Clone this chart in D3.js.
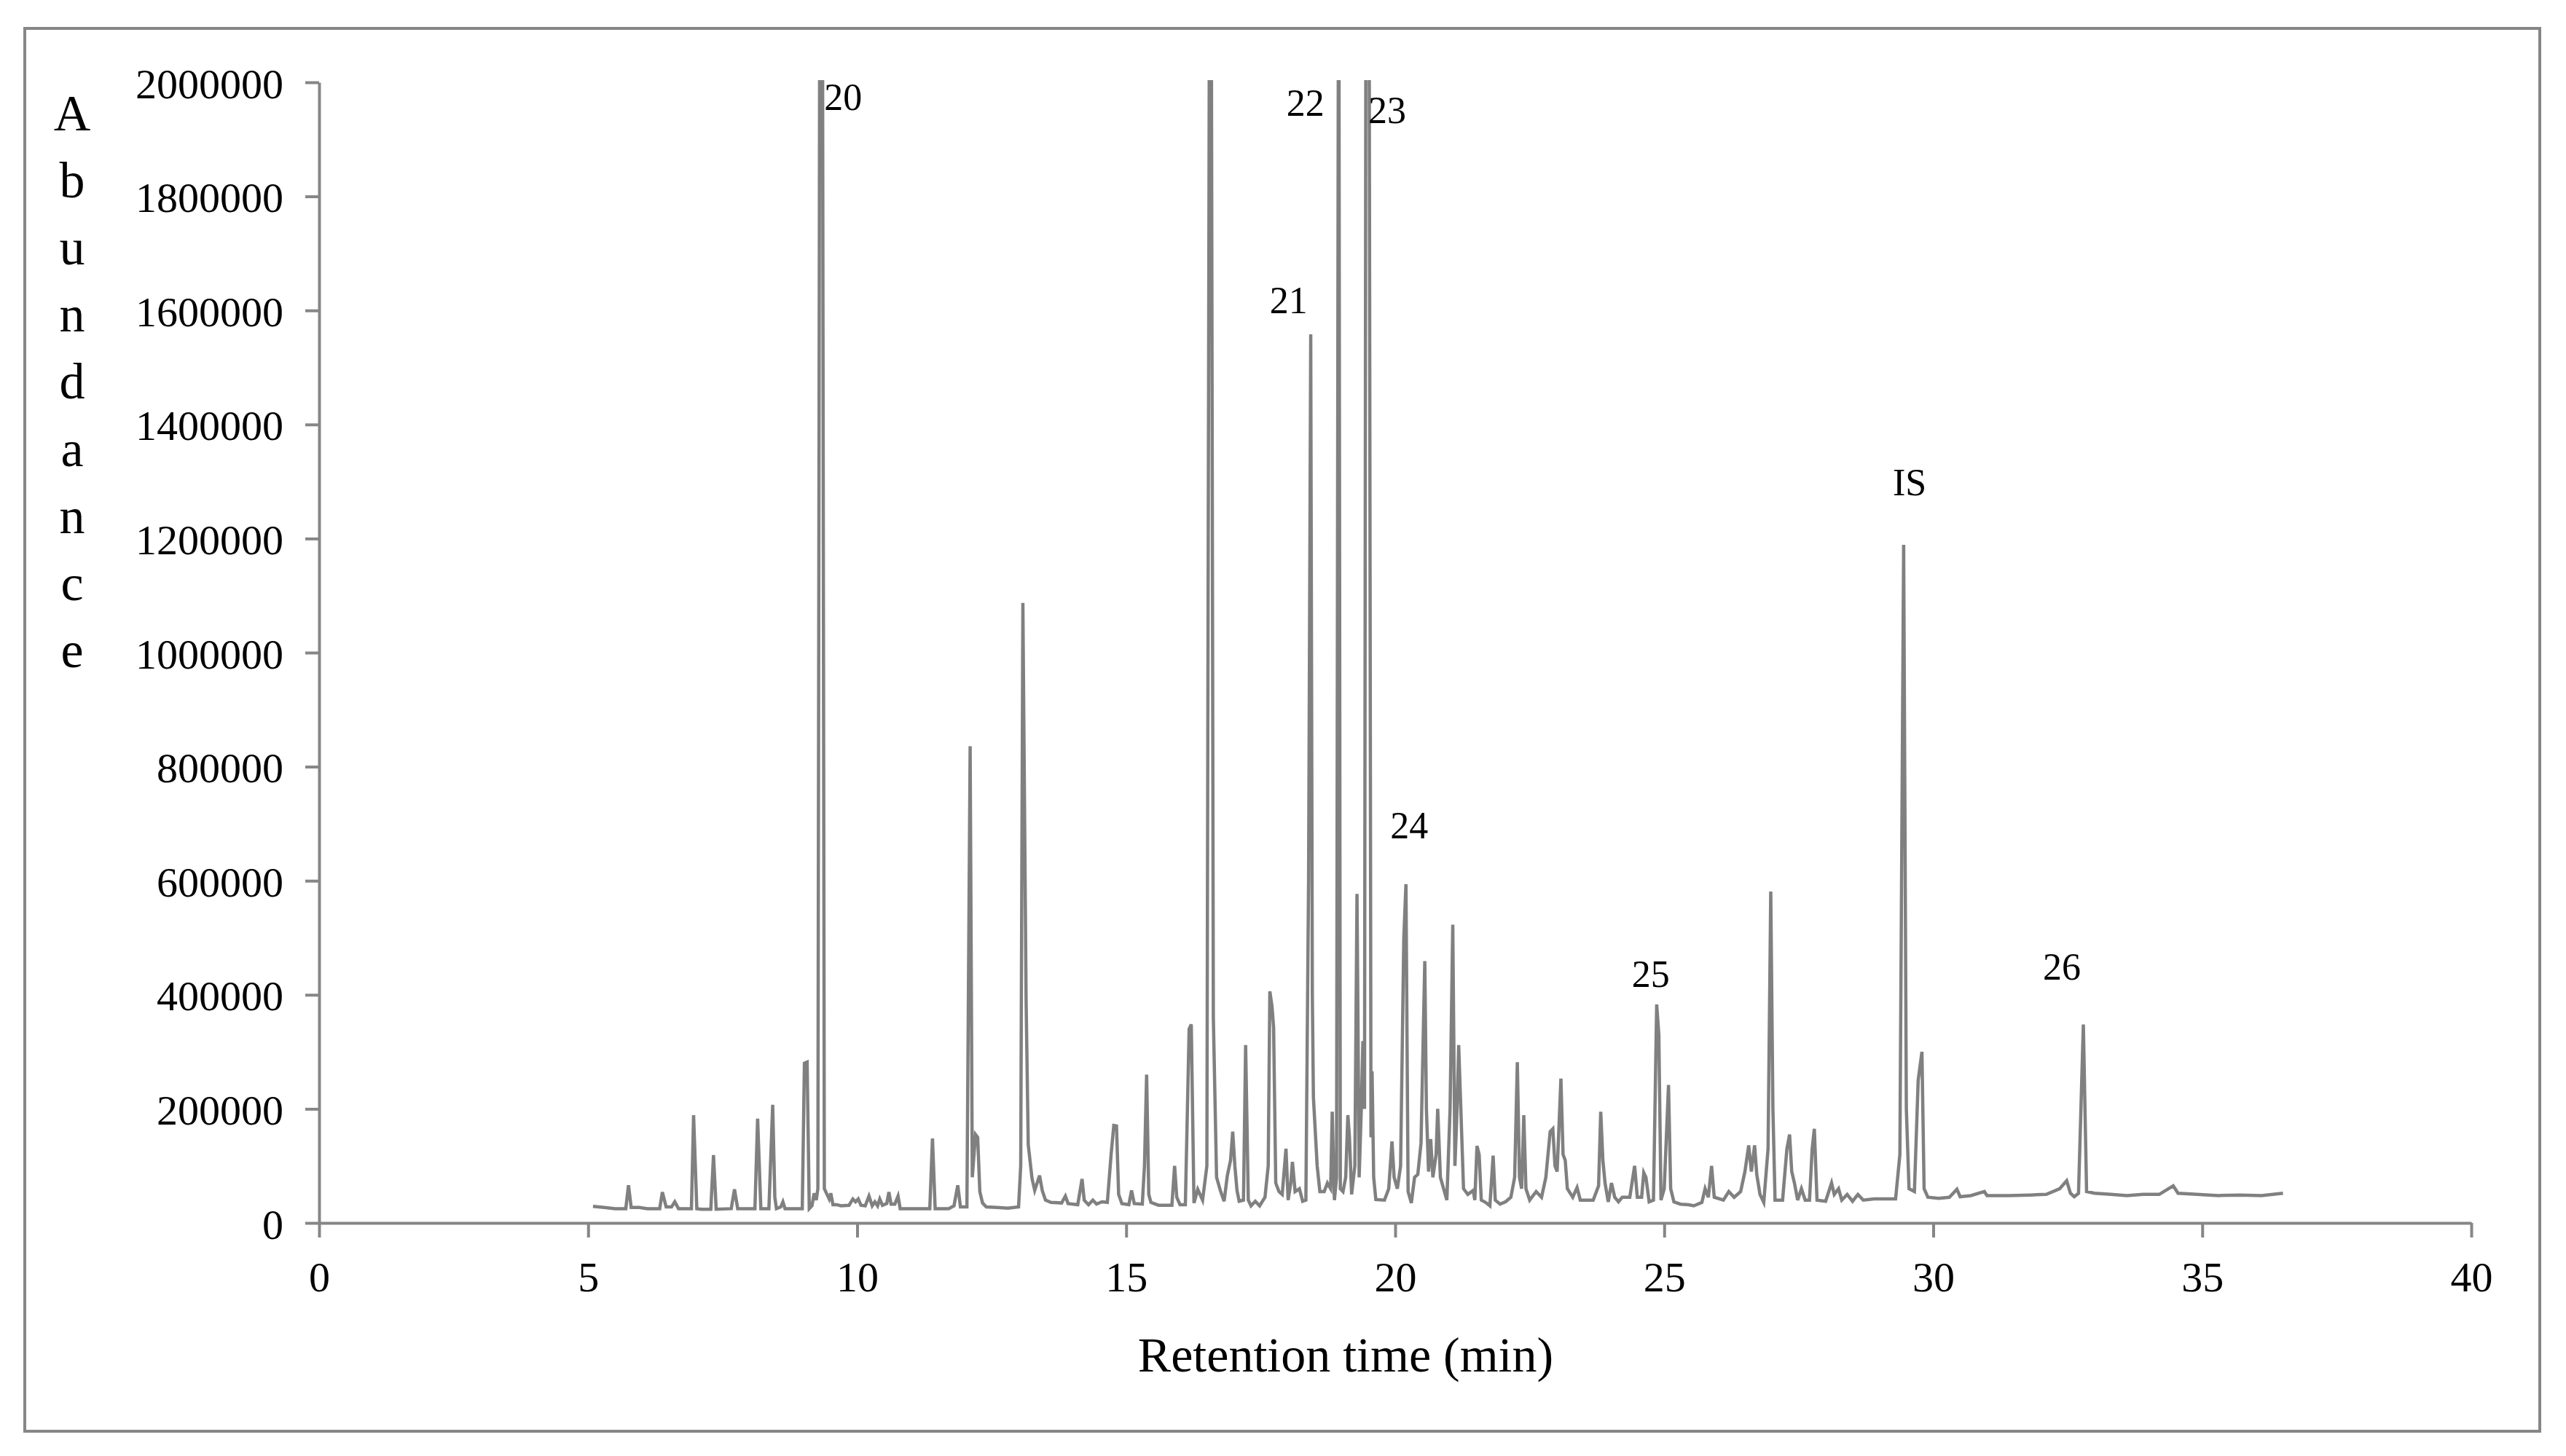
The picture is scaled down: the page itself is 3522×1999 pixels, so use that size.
<!DOCTYPE html>
<html>
<head>
<meta charset="utf-8">
<script src="https://cdn.jsdelivr.net/npm/d3@7/dist/d3.min.js"></script>
<style>
  html, body { margin: 0; padding: 0; background: #fff; }
  svg { display: block; }
  text { font-family: "Liberation Serif", "Times New Roman", serif; fill: #000; }
</style>
</head>
<body>
<svg id="chart" width="3522" height="1999"></svg>
<script>
// ---------------- DATA ----------------
const xTicks = [0, 5, 10, 15, 20, 25, 30, 35, 40];
const yTicks = [0, 200000, 400000, 600000, 800000, 1000000, 1200000, 1400000, 1600000, 1800000, 2000000];
const xTitle = "Retention time (min)";
const yTitle = "Abundance";

// retention time (min) of each trace point
const retentionTime = [
  5.09, 5.30, 5.50, 5.70, 5.75, 5.80, 5.95, 6.10, 6.33, 6.38, 6.45, 6.55, 6.61, 6.68,
  6.92, 6.96, 7.02, 7.10, 7.28, 7.33, 7.38, 7.66, 7.72, 7.78, 8.10, 8.15, 8.21,
  8.36, 8.43, 8.47, 8.50, 8.58, 8.62, 8.66, 8.98, 9.02, 9.07, 9.11, 9.16, 9.20, 9.24,
  9.27, 9.31, 9.35, 9.39, 9.44, 9.48, 9.51, 9.55, 9.62, 9.70, 9.85, 9.92, 9.97, 10.02,
  10.07, 10.15, 10.22, 10.28, 10.33, 10.38, 10.42, 10.47, 10.55, 10.59, 10.63, 10.70,
  10.76, 10.80, 11.20, 11.35, 11.40, 11.45, 11.70, 11.80, 11.87, 11.92, 12.04, 12.10,
  12.14, 12.20, 12.24, 12.28, 12.33, 12.40, 12.60, 12.80, 13.00, 13.04, 13.08, 13.14,
  13.18, 13.25, 13.30, 13.39, 13.44, 13.50, 13.60, 13.80, 13.87, 13.92, 14.10, 14.18,
  14.22, 14.30, 14.38, 14.45, 14.55, 14.65, 14.72, 14.77, 14.82, 14.86, 14.92, 15.05,
  15.10, 15.15, 15.30, 15.34, 15.38, 15.42, 15.46, 15.60, 15.85, 15.90, 15.94, 16.00,
  16.10, 16.17, 16.21, 16.26, 16.33, 16.42, 16.50, 16.555, 16.575, 16.62, 16.68, 16.75,
  16.82, 16.88, 16.94, 16.98, 17.02, 17.06, 17.10, 17.18, 17.22, 17.27, 17.32, 17.40,
  17.48, 17.58, 17.64, 17.67, 17.71, 17.74, 17.78, 17.84, 17.90, 17.97, 18.01, 18.06,
  18.09, 18.14, 18.22, 18.28, 18.34, 18.39, 18.43, 18.46, 18.48, 18.55, 18.60, 18.68,
  18.74, 18.80, 18.83, 18.87, 18.91, 18.95, 18.98, 19.03, 19.08, 19.12, 19.15, 19.19,
  19.25, 19.29, 19.33, 19.37, 19.40, 19.43, 19.46, 19.51, 19.55, 19.57, 19.60, 19.64,
  19.80, 19.88, 19.94, 19.98, 20.04, 20.10, 20.16, 20.20, 20.24, 20.30, 20.36, 20.42,
  20.48, 20.55, 20.58, 20.62, 20.66, 20.70, 20.76, 20.79, 20.84, 20.90, 20.96, 21.02,
  21.07, 21.11, 21.15, 21.18, 21.22, 21.27, 21.35, 21.45, 21.48, 21.52, 21.56, 21.60,
  21.68, 21.76, 21.82, 21.86, 21.95, 22.05, 22.15, 22.22, 22.27, 22.31, 22.35, 22.39,
  22.43, 22.50, 22.62, 22.72, 22.80, 22.88, 22.93, 22.97, 23.01, 23.08, 23.12, 23.16,
  23.20, 23.30, 23.38, 23.44, 23.68, 23.78, 23.82, 23.86, 23.90, 23.96, 24.02, 24.08,
  24.15, 24.22, 24.36, 24.45, 24.50, 24.58, 24.62, 24.66, 24.72, 24.80, 24.86, 24.90,
  24.94, 25.00, 25.08, 25.12, 25.18, 25.30, 25.45, 25.55, 25.70, 25.76, 25.82, 25.88,
  25.93, 26.10, 26.20, 26.30, 26.42, 26.50, 26.57, 26.62, 26.68, 26.72, 26.78, 26.85,
  26.93, 26.98, 27.02, 27.06, 27.20, 27.28, 27.33, 27.37, 27.42, 27.48, 27.55, 27.62,
  27.70, 27.75, 27.79, 27.84, 28.00, 28.11, 28.16, 28.24, 28.30, 28.40, 28.50, 28.60,
  28.70, 28.90, 29.10, 29.30, 29.38, 29.45, 29.50, 29.55, 29.65, 29.72, 29.79, 29.83,
  29.90, 30.10, 30.30, 30.44, 30.50, 30.70, 30.95, 31.00, 31.40, 31.80, 32.10, 32.35,
  32.48, 32.55, 32.62, 32.70, 32.79, 32.85, 33.00, 33.30, 33.60, 33.90, 34.20, 34.46,
  34.55, 34.90, 35.30, 35.70, 36.10, 36.50
];

// abundance at each trace point (values above 2000000 run off the top of the plot)
const abundance = [
  29000, 27000, 25000, 25000, 66000, 27000, 27000, 25000, 25000, 54000, 28000, 28000, 37000, 25000,
  25000, 189000, 25000, 24000, 24000, 119000, 24000, 25000, 59000, 25000, 25000, 183000, 25000,
  25000, 207000, 45000, 25000, 28000, 37000, 25000, 25000, 280000, 282000, 25000, 30000, 52000, 40000,
  60000, 2500000, 2500000, 60000, 50000, 42000, 52000, 32000, 32000, 30000, 31000, 42000, 37000, 42000,
  31000, 30000, 47000, 30000, 37000, 30000, 42000, 31000, 34000, 54000, 33000, 33000,
  47000, 25000, 25000, 25000, 148000, 25000, 25000, 30000, 66000, 28000, 28000, 836000,
  80000, 155000, 150000, 55000, 35000, 28000, 27000, 26000, 28000, 100000, 1087000, 391000,
  137000, 78000, 57000, 83000, 57000, 40000, 36000, 35000, 47000, 34000, 32000, 77000,
  40000, 32000, 40000, 33000, 37000, 36000, 120000, 171000, 170000, 50000, 34000, 32000,
  57000, 34000, 33000, 100000, 260000, 50000, 36000, 31000, 31000, 100000, 45000, 32000,
  32000, 340000, 348000, 35000, 59000, 40000, 100000, 2500000, 2500000, 360000, 80000, 57000,
  38000, 83000, 110000, 160000, 100000, 57000, 38000, 40000, 312000, 40000, 30000, 38000,
  30000, 45000, 100000, 406000, 380000, 343000, 70000, 55000, 50000, 130000, 40000, 70000,
  107000, 55000, 60000, 38000, 40000, 600000, 1558000, 400000, 220000, 100000, 55000, 55000,
  70000, 60000, 195000, 40000, 80000, 2500000, 60000, 55000, 80000, 189000, 150000, 50000,
  100000, 577000, 80000, 200000, 319000, 200000, 2500000, 2500000, 150000, 266000, 80000, 41000,
  40000, 60000, 143000, 80000, 60000, 100000, 500000, 594000, 55000, 35000, 80000, 85000,
  140000, 459000, 200000, 90000, 147000, 80000, 120000, 200000, 80000, 60000, 40000, 200000,
  523000, 100000, 200000, 312000, 200000, 60000, 50000, 57000, 40000, 135000, 120000, 40000,
  36000, 30000, 118000, 40000, 33000, 37000, 45000, 80000, 282000, 80000, 60000, 189000,
  60000, 40000, 55000, 45000, 80000, 160000, 165000, 100000, 90000, 253000, 120000, 110000,
  60000, 45000, 62000, 40000, 40000, 65000, 195000, 110000, 70000, 37000, 70000, 45000,
  37000, 45000, 45000, 100000, 45000, 45000, 88000, 80000, 37000, 40000, 383000, 330000,
  40000, 60000, 242000, 60000, 37000, 33000, 32000, 30000, 36000, 60000, 45000, 100000,
  45000, 40000, 55000, 45000, 55000, 90000, 136000, 90000, 136000, 85000, 50000, 36000,
  130000, 581000, 200000, 40000, 40000, 130000, 155000, 90000, 70000, 40000, 60000, 40000,
  40000, 130000, 165000, 40000, 38000, 70000, 50000, 60000, 40000, 50000, 38000, 50000,
  40000, 42000, 42000, 42000, 120000, 1189000, 200000, 60000, 55000, 250000, 300000, 60000,
  45000, 43000, 45000, 59000, 46000, 48000, 55000, 48000, 48000, 49000, 50000, 60000,
  74000, 52000, 46000, 52000, 348000, 55000, 52000, 50000, 48000, 50000, 50000, 65000,
  52000, 50000, 48000, 49000, 48000, 52000
];

// peak labels: text and retention time / abundance anchor
const peakLabels = ["20", "21", "22", "23", "24", "25", "IS", "26"];
const peakLabelTime = [9.74, 18.02, 18.33, 19.85, 20.26, 24.75, 29.56, 32.39];
const peakLabelAbund = [1952000, 1595000, 1941000, 1929000, 674000, 414000, 1276000, 426000];

// ---------------- DRAW ----------------
const svg = d3.select("#chart");
const grey = "#868686";

// outer frame
svg.append("rect")
  .attr("x", 34).attr("y", 39).attr("width", 3452).attr("height", 1926)
  .attr("fill", "none").attr("stroke", grey).attr("stroke-width", 4);

const x = d3.scaleLinear().domain([0, 40]).range([438, 3392]);
const y = d3.scaleLinear().domain([0, 2000000]).range([1679, 113]);

// clip for off-scale peaks
svg.append("defs").append("clipPath").attr("id", "plotclip")
  .append("rect").attr("x", x(0)).attr("y", y(2000000) - 3)
  .attr("width", x(40) - x(0)).attr("height", y(0) - y(2000000) + 3);

const points = retentionTime.map((t, i) => [t, abundance[i]]);
const line = d3.line().x(d => x(d[0])).y(d => y(d[1]));

svg.append("path")
  .datum(points)
  .attr("d", line)
  .attr("clip-path", "url(#plotclip)")
  .attr("fill", "none")
  .attr("stroke", "#808080")
  .attr("stroke-width", 4.5)
  .attr("stroke-linejoin", "miter");

// y axis
const yAxis = svg.append("g")
  .attr("transform", `translate(${x(0)},0)`)
  .call(d3.axisLeft(y).tickValues(yTicks).tickSize(19).tickSizeOuter(0).tickPadding(30)
        .tickFormat(d3.format("d")));
// x axis
const xAxis = svg.append("g")
  .attr("transform", `translate(0,${y(0)})`)
  .call(d3.axisBottom(x).tickValues(xTicks).tickSize(20).tickSizeOuter(0).tickPadding(33)
        .tickFormat(d3.format("d")));

[yAxis, xAxis].forEach(g => {
  g.select(".domain").attr("stroke", grey).attr("stroke-width", 4);
  g.selectAll(".tick line").attr("stroke", grey).attr("stroke-width", 4);
  g.selectAll(".tick text")
    .style("font-family", '"Liberation Serif", "Times New Roman", serif')
    .style("font-size", "58px").attr("fill", "#000");
});
yAxis.selectAll(".tick text").attr("dy", "21px");

// x title
svg.append("text")
  .attr("x", 1847).attr("y", 1883)
  .attr("text-anchor", "middle")
  .style("font-size", "68px")
  .text(xTitle);

// y title: stacked letters
const letters = yTitle.split("");
svg.append("g").selectAll("text").data(letters).join("text")
  .attr("x", 99)
  .attr("y", (d, i) => 179 + i * 92.1)
  .attr("text-anchor", "middle")
  .style("font-size", "70px")
  .text(d => d);

// peak labels
svg.append("g").selectAll("text").data(peakLabels).join("text")
  .attr("x", (d, i) => x(peakLabelTime[i]))
  .attr("y", (d, i) => y(peakLabelAbund[i]))
  .attr("text-anchor", "middle")
  .style("font-size", "52px")
  .text(d => d);
</script>
</body>
</html>
